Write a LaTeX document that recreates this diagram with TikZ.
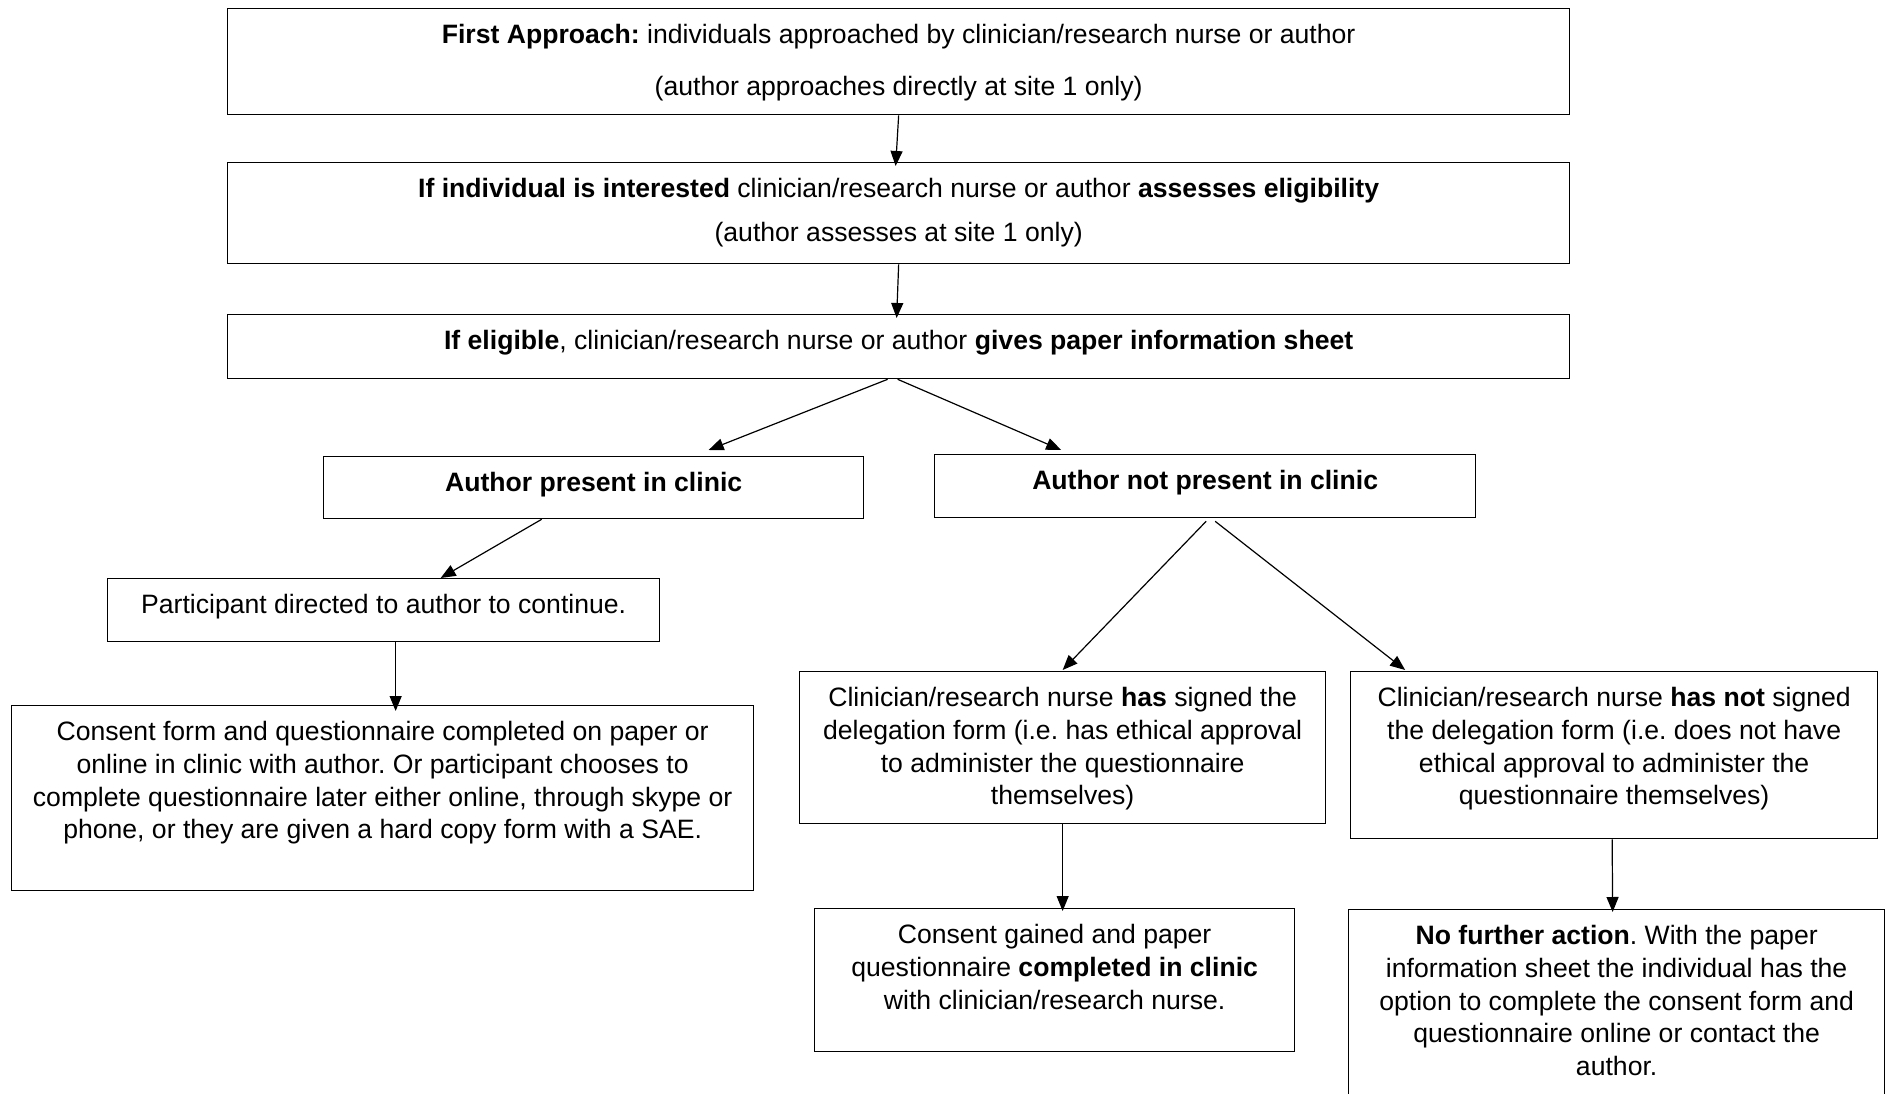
\documentclass[tikz,border=0pt]{standalone}
\usepackage{fontspec}
\setmainfont{Liberation Sans}
\usetikzlibrary{arrows.meta,calc}
\frenchspacing
\newcommand{\boxtext}[3]{\parbox[c][#2][t]{#1}{\centering\vspace*{15.5pt}#3}}

\begin{document}
\begin{tikzpicture}[
  x=1pt, y=-1pt,
  font=\fontsize{26.6}{32.8}\selectfont,
  bx/.style={draw, line width=1.3pt, inner sep=0pt, anchor=north west},
  pf/.style={line width=1.2pt, -{Triangle[length=15pt, width=12pt]}}
]
\useasboundingbox (0,0) rectangle (1885,1094);

\node[bx] (first) at (227,8) {\boxtext{1342pt}{106pt}{\textbf{First Approach:} individuals approached by clinician/research nurse or author\\[18.9pt]
  (author approaches directly at site 1 only)}};
\node[bx] (interest) at (227,162) {\boxtext{1342pt}{101pt}{\textbf{If individual is interested} clinician/research nurse or author \textbf{assesses eligibility}\\[11.7pt]
  (author assesses at site 1 only)}};
\node[bx] (elig) at (227,314) {\boxtext{1342pt}{64pt}{\textbf{If eligible}, clinician/research nurse or author \textbf{gives paper information sheet}}};
\node[bx] (present) at (323,456) {\boxtext{540pt}{62pt}{\textbf{Author present in clinic}}};
\node[bx] (absent) at (934,454) {\boxtext{541pt}{63pt}{\textbf{Author not present in clinic}}};
\node[bx] (direct) at (107,578) {\boxtext{552pt}{63pt}{Participant directed to author to continue.}};
\node[bx] (consent) at (11,705) {\boxtext{742pt}{185pt}{Consent form and questionnaire completed on paper or\\
  online in clinic with author. Or participant chooses to\\
  complete questionnaire later either online, through skype or\\
  phone, or they are given a hard copy form with a SAE.}};
\node[bx] (signed) at (799,671) {\boxtext{526pt}{152pt}{Clinician/research nurse \textbf{has} signed the\\
  delegation form (i.e. has ethical approval\\
  to administer the questionnaire\\
  themselves)}};
\node[bx] (unsigned) at (1350,671) {\boxtext{527pt}{167pt}{Clinician/research nurse \textbf{has not} signed\\
  the delegation form (i.e. does not have\\
  ethical approval to administer the\\
  questionnaire themselves)}};
\node[bx] (gained) at (814,908) {\boxtext{480pt}{143pt}{Consent gained and paper\\
  questionnaire \textbf{completed in clinic}\\
  with clinician/research nurse.}};
\node[bx] (nofurther) at (1348,909) {\boxtext{536pt}{200pt}{\textbf{No further action}. With the paper\\
  information sheet the individual has the\\
  option to complete the consent form and\\
  questionnaire online or contact the\\
  author.}};

\draw[pf] (first.south) -- ($(interest.north)+(-3,4)$);
\draw[pf] (interest.south) -- ($(elig.north)+(-2,4)$);
\draw[pf] ($(elig.south)+(-11,0)$) -- ($(present.north)+(115,-6)$);
\draw[pf] ($(elig.south)+(-1,0)$) -- ($(absent.north)+(-144,-4)$);
\draw[pf] ($(present.south)+(-52,0)$) -- ($(direct.north)+(57,0)$);
\draw[pf] ($(absent.south)+(1,3)$) -- ($(signed.north)+(0,-1)$);
\draw[pf] ($(absent.south)+(10,3)$) -- ($(unsigned.north)+(-209,-1)$);
\draw[pf] ($(direct.south)+(12,0)$) -- ($(consent.north)+(13,6)$);
\draw[pf] (signed.south) -- ($(gained.north)+(8,3)$);
\draw[pf] ($(unsigned.south)+(-2,0)$) -- ($(nofurther.north)+(-4,3)$);
\end{tikzpicture}
\end{document}
